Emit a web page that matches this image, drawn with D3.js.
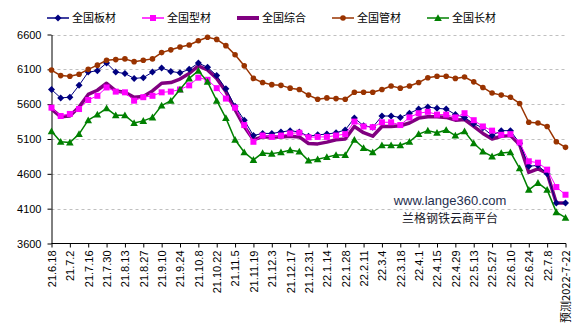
<!DOCTYPE html>
<html>
<head>
<meta charset="utf-8">
<script src="https://cdn.jsdelivr.net/npm/d3@7"></script>
<style>
  body { margin: 0; background: #fff; }
  svg { display: block; }
  .axis text { font-family: "Liberation Sans", Arial, sans-serif; font-size: 11px; fill: #000; }
  .axis path, .axis line { stroke: #000; }
  .grid line { stroke: #c0c0c0; stroke-dasharray: 3,3; }
  .legend text { font-family: "Noto Sans CJK SC", sans-serif; font-size: 11px; fill: #000; }
</style>
</head>
<body>
<script>
// weekly price index, 21.6.18 - 22.7.22 (last week is a forecast)
var categories = ["21.6.18", "21.6.25", "21.7.2", "21.7.9", "21.7.16", "21.7.23", "21.7.30", "21.8.6",
    "21.8.13", "21.8.20", "21.8.27", "21.9.3", "21.9.10", "21.9.17", "21.9.24", "21.10.1",
    "21.10.8", "21.10.15", "21.10.22", "21.10.29", "21.11.5", "21.11.12", "21.11.19", "21.11.26",
    "21.12.3", "21.12.10", "21.12.17", "21.12.24", "21.12.31", "22.1.7", "22.1.14", "22.1.21",
    "22.1.28", "22.2.4", "22.2.11", "22.2.25", "22.3.4", "22.3.11", "22.3.18", "22.3.25",
    "22.4.1", "22.4.8", "22.4.15", "22.4.22", "22.4.29", "22.5.6", "22.5.13", "22.5.20",
    "22.5.27", "22.6.3", "22.6.10", "22.6.17", "22.6.24", "22.7.1", "22.7.8", "22.7.15",
    "预测2022-7-22"];

var plate = [5810, 5690, 5700, 5870, 6060, 6080, 6190, 6060, 6040, 5970, 5980, 6060, 6120, 6070, 6050,
    6100, 6190, 6130, 6010, 5820, 5570, 5370, 5150, 5180, 5180, 5200, 5220, 5200, 5140,
    5160, 5170, 5190, 5230, 5400, 5290, 5270, 5430, 5430, 5410, 5470, 5530, 5560, 5540,
    5530, 5450, 5410, 5320, 5260, 5150, 5220, 5220, 5040, 4710, 4720, 4600, 4180, 4180];

var section = [5550, 5430, 5460, 5530, 5660, 5720, 5840, 5780, 5770, 5650, 5700, 5720, 5770, 5780, 5810,
    5870, 5980, 5950, 5830, 5680, 5550, 5300, 5060, 5150, 5130, 5150, 5180, 5190, 5125,
    5130, 5130, 5150, 5170, 5350, 5280, 5270, 5340, 5340, 5300, 5410, 5470, 5490, 5450,
    5450, 5410, 5470, 5370, 5280, 5220, 5160, 5170, 5050, 4780, 4760, 4660, 4410, 4300];

var composite = [5530, 5420, 5430, 5560, 5740, 5800, 5900, 5790, 5770, 5700, 5710, 5790, 5900, 5910, 5960,
    6040, 6150, 6090, 5970, 5780, 5520, 5280, 5090, 5130, 5130, 5130, 5140, 5130, 5035,
    5030, 5055, 5090, 5100, 5280, 5190, 5140, 5280, 5280, 5290, 5330, 5400, 5420, 5420,
    5410, 5370, 5380, 5280, 5180, 5100, 5140, 5150, 5020, 4620, 4670, 4610, 4180, 4180];

var pipe = [6090, 6010, 6000, 6030, 6100, 6160, 6230, 6240, 6250, 6210, 6230, 6250, 6340, 6380, 6420,
    6450, 6510, 6560, 6530, 6440, 6310, 6150, 5970, 5910, 5880, 5870, 5830, 5810, 5730,
    5670, 5690, 5680, 5670, 5770, 5770, 5770, 5810, 5860, 5830, 5860, 5910, 5980, 6000,
    6000, 5970, 5990, 5920, 5840, 5760, 5730, 5700, 5610, 5340, 5330, 5280, 5060, 4980];

var longSteel = [5210, 5060, 5050, 5170, 5370, 5450, 5540, 5440, 5440, 5330, 5360, 5410, 5580, 5650, 5810,
    5970, 6080, 5920, 5650, 5400, 5090, 4910, 4800, 4900, 4890, 4910, 4940, 4920, 4790,
    4810, 4840, 4870, 4870, 5090, 4970, 4910, 5010, 5010, 5010, 5060, 5170, 5220, 5190,
    5230, 5150, 5210, 5040, 4920, 4850, 4900, 4910, 4680, 4370, 4470, 4370, 4050, 3970];

var yTicks = [3600, 4100, 4600, 5100, 5600, 6100, 6600];

var series = [
    {name: "全国板材", values: plate, color: "#000080", width: 1, marker: "diamond"},
    {name: "全国型材", values: section, color: "#ff00ff", width: 1, marker: "square"},
    {name: "全国综合", values: composite, color: "#800080", width: 3.5, marker: "none"},
    {name: "全国管材", values: pipe, color: "#993300", width: 1.5, marker: "circle"},
    {name: "全国长材", values: longSteel, color: "#008000", width: 1.5, marker: "triangle"}
];

var width = 585, height = 332;

var svg = d3.select("body").append("svg")
    .attr("width", width)
    .attr("height", height);

var xScale = d3.scalePoint().domain(categories).range([51.5, 565.5]);
var yScale = d3.scaleLinear().domain([3600, 6600]).range([243.5, 34.5]);

// dashed horizontal gridlines
svg.append("g")
    .attr("class", "grid")
    .selectAll("line")
    .data(yTicks.slice(1))
    .enter().append("line")
    .attr("x1", 51.5)
    .attr("x2", 566)
    .attr("y1", function(d) { return Math.round(yScale(d)) + 0.5; })
    .attr("y2", function(d) { return Math.round(yScale(d)) + 0.5; });

// y axis
svg.append("g")
    .attr("class", "axis axis--y")
    .attr("transform", "translate(51.5,0)")
    .call(d3.axisLeft(yScale).tickValues(yTicks).tickSize(4).tickSizeOuter(0).tickPadding(6).tickFormat(d3.format("d")));

// x axis, label every other week
var xAxis = svg.append("g")
    .attr("class", "axis axis--x")
    .attr("transform", "translate(0,243.5)")
    .call(d3.axisBottom(xScale)
        .tickValues(categories.filter(function(d, i) { return i % 2 == 0; }))
        .tickSize(4)
        .tickSizeOuter(0));

xAxis.select(".domain").attr("d", "M51.5,0H566");

xAxis.selectAll(".tick text")
    .attr("transform", "rotate(-90)")
    .attr("x", -7)
    .attr("y", 0)
    .attr("dy", "0.35em")
    .style("text-anchor", "end");

xAxis.selectAll(".tick text")
    .filter(function(d) { return d.indexOf("预测") == 0; })
    .style("font-family", "'Noto Sans CJK SC', sans-serif");

// one line + markers per series
function drawMarker(sel, type, color) {
    if (type == "diamond") {
        sel.append("path").attr("d", "M0,-3.5L3.5,0L0,3.5L-3.5,0Z").attr("fill", color);
    } else if (type == "square") {
        sel.append("rect").attr("x", -3).attr("y", -3).attr("width", 6).attr("height", 6).attr("fill", color);
    } else if (type == "circle") {
        sel.append("circle").attr("r", 2.8).attr("fill", color);
    } else if (type == "triangle") {
        sel.append("path").attr("d", "M0,-3.8L3.8,3L-3.8,3Z").attr("fill", color);
    }
}

var lineGen = d3.line()
    .x(function(d, i) { return xScale(categories[i]); })
    .y(function(d) { return yScale(d); });

// the thick composite line goes underneath the marked series
var drawOrder = [2, 0, 1, 3, 4];
drawOrder.forEach(function(k) {
    var s = series[k];
    var g = svg.append("g").attr("class", "series");
    g.append("path")
        .attr("d", lineGen(s.values))
        .attr("fill", "none")
        .attr("stroke", s.color)
        .attr("stroke-width", s.width)
        .attr("stroke-linejoin", "round");
    if (s.marker != "none") {
        g.selectAll("g.mk")
            .data(s.values)
            .enter().append("g")
            .attr("class", "mk")
            .attr("transform", function(d, i) { return "translate(" + xScale(categories[i]) + "," + yScale(d) + ")"; })
            .each(function() { drawMarker(d3.select(this), s.marker, s.color); });
    }
});

// legend across the top
var legend = svg.append("g").attr("class", "legend");
series.forEach(function(s, i) {
    var item = legend.append("g").attr("transform", "translate(" + (47 + i * 95) + ",18)");
    item.append("line")
        .attr("x1", 0).attr("x2", 22)
        .attr("stroke", s.color)
        .attr("stroke-width", s.marker == "none" ? 4 : 1.5);
    var mk = item.append("g").attr("transform", "translate(11,0)");
    drawMarker(mk, s.marker, s.color);
    item.append("text")
        .attr("x", 25)
        .attr("dy", "0.35em")
        .text(s.name);
});

// site watermark
svg.append("text")
    .attr("x", 450).attr("y", 200)
    .attr("dy", "0.35em")
    .style("text-anchor", "middle")
    .style("font-family", "'Liberation Sans', Arial, sans-serif")
    .style("font-size", "13px")
    .style("fill", "#1f2f4f")
    .text("www.lange360.com");

svg.append("text")
    .attr("x", 450).attr("y", 219)
    .attr("dy", "0.35em")
    .style("text-anchor", "middle")
    .style("font-family", "'Noto Sans CJK SC', sans-serif")
    .style("font-size", "12px")
    .style("fill", "#1a1a2a")
    .text("兰格钢铁云商平台");
</script>
</body>
</html>
